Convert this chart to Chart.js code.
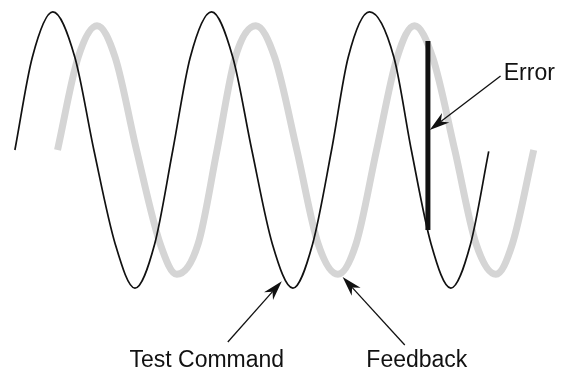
<!DOCTYPE html>
<html>
<head>
<meta charset="utf-8">
<script src="https://cdn.jsdelivr.net/npm/chart.js@4/dist/chart.umd.min.js"></script>
<style>
  body { margin: 0; background: #fff; }
  #contenedor { width: 563px; height: 369px; }
</style>
</head>
<body>
<div id="contenedor"><canvas id="graficoSeguimiento"></canvas></div>
<script>
// Comando de prueba (linea negra): tiempo y amplitud
const tiempoComando = [0, 2.2, 4.8, 7.6, 10, 12.7, 15.2, 17.7, 20, 22.2, 24.9, 27.6, 30, 32.6, 35.2, 37.7, 40.1, 42.2, 44.9, 48, 50.2, 52.7, 55.2, 57.7, 60];
const valoresComando = [0, 6.7, 10, 6.7, 0, -6.8, -10, -6.8, 0, 6.7, 10, 6.7, 0, -6.8, -10, -6.8, 0, 6.7, 10, 6.7, 0, -6.8, -10, -6.8, -0.1];

// Realimentacion (linea gris), atrasada respecto al comando
const tiempoRespuesta = [5.4, 8.0, 10.4, 12.7, 15.4, 18.4, 20.5, 23.2, 25.6, 27.9, 30.5, 32.9, 35.7, 38.4, 40.9, 43.2, 45.8, 48.4, 50.6, 52.9, 55.7, 58.4, 60.9, 63.0, 65.7];
const valoresRespuesta = [0, 6.7, 9, 6.7, 0, -6.8, -9, -6.8, 0, 6.7, 9, 6.7, 0, -6.8, -9, -6.8, 0, 6.7, 9, 6.7, 0, -6.8, -9, -6.8, 0];

// Barra de error entre las dos curvas
const tiempoError = [52.3, 52.3];
const valoresError = [7.9, -5.8];

// Etiquetas con flecha: punta, cola y posicion del texto en unidades del grafico
const notas = [
  { texto: "Error", punta: [52.53, 1.45], cola: [61.5, 5.36], textoEn: [61.9, 5.1], alinear: "left" },
  { texto: "Test Command", punta: [33.8, -9.5], cola: [26.96, -13.9], textoEn: [24.3, -15.7], alinear: "center" },
  { texto: "Feedback", punta: [41.5, -9.2], cola: [49.37, -14.12], textoEn: [50.9, -15.7], alinear: "center" }
];

function aPuntos(xs, ys) {
  return xs.map((x, i) => ({ x: x, y: ys[i] }));
}

function dibujarFlecha(ctx, x1, y1, x2, y2) {
  var ang = Math.atan2(y2 - y1, x2 - x1);
  var largo = 20, ancho = 6, muesca = 14;
  ctx.beginPath();
  ctx.moveTo(x1, y1);
  ctx.lineTo(x2 - Math.cos(ang) * muesca, y2 - Math.sin(ang) * muesca);
  ctx.lineWidth = 1.3;
  ctx.strokeStyle = "#111";
  ctx.stroke();
  // cabeza tipo "stealth"
  ctx.beginPath();
  ctx.moveTo(x2, y2);
  ctx.lineTo(x2 - Math.cos(ang) * largo - Math.sin(ang) * ancho, y2 - Math.sin(ang) * largo + Math.cos(ang) * ancho);
  ctx.lineTo(x2 - Math.cos(ang) * muesca, y2 - Math.sin(ang) * muesca);
  ctx.lineTo(x2 - Math.cos(ang) * largo + Math.sin(ang) * ancho, y2 - Math.sin(ang) * largo - Math.cos(ang) * ancho);
  ctx.closePath();
  ctx.fillStyle = "#111";
  ctx.fill();
}

const pluginNotas = {
  id: "notas",
  afterDraw(chart) {
    const ctx = chart.ctx;
    const ex = chart.scales.x, ey = chart.scales.y;
    ctx.save();
    notas.forEach((n) => {
      dibujarFlecha(ctx,
        ex.getPixelForValue(n.cola[0]), ey.getPixelForValue(n.cola[1]),
        ex.getPixelForValue(n.punta[0]), ey.getPixelForValue(n.punta[1]));
      ctx.font = '23px "Liberation Sans", Arial, sans-serif';
      ctx.fillStyle = "#111";
      ctx.textAlign = n.alinear;
      ctx.textBaseline = "alphabetic";
      ctx.fillText(n.texto, ex.getPixelForValue(n.textoEn[0]), ey.getPixelForValue(n.textoEn[1]));
    });
    ctx.restore();
  }
};

const datos = {
  datasets: [
    {
      label: "Error",
      data: aPuntos(tiempoError, valoresError),
      borderColor: "#111",
      borderWidth: 5,
      tension: 0,
      pointRadius: 0
    },
    {
      label: "Test Command",
      data: aPuntos(tiempoComando, valoresComando),
      borderColor: "#111",
      borderWidth: 1.7,
      cubicInterpolationMode: "monotone",
      pointRadius: 0
    },
    {
      label: "Feedback",
      data: aPuntos(tiempoRespuesta, valoresRespuesta),
      borderColor: "#d5d5d5",
      borderWidth: 7,
      cubicInterpolationMode: "monotone",
      pointRadius: 0
    }
  ]
};

const config = {
  type: "line",
  data: datos,
  options: {
    responsive: true,
    maintainAspectRatio: false,
    animation: false,
    layout: { padding: { left: 7, right: 19, top: 5, bottom: 74 } },
    plugins: { legend: { display: false }, tooltip: { enabled: false } },
    scales: {
      x: { type: "linear", min: -1, max: 67, display: false },
      y: { type: "linear", min: -10.5, max: 10.5, display: false }
    }
  },
  plugins: [pluginNotas]
};

const ctx = document.getElementById("graficoSeguimiento").getContext("2d");
new Chart(ctx, config);
</script>
</body>
</html>
